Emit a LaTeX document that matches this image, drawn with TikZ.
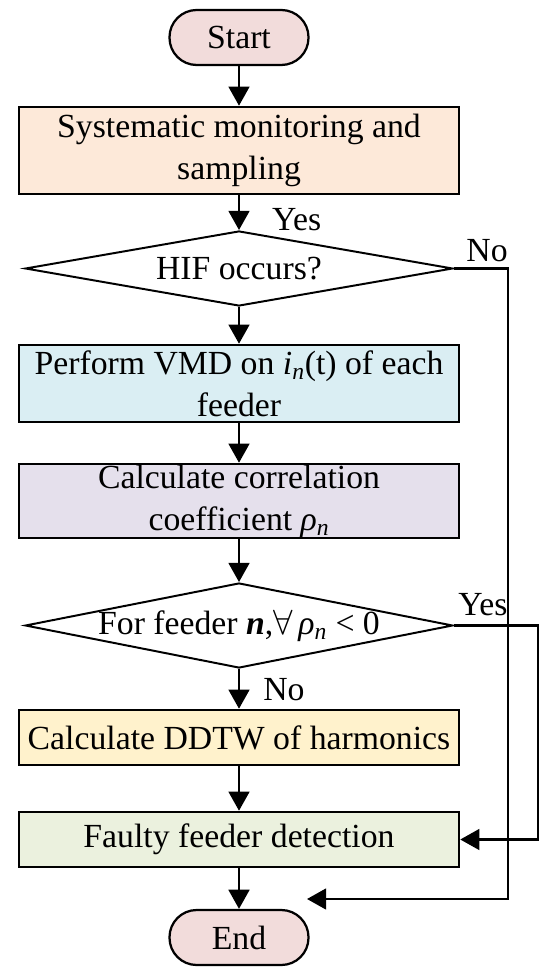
\documentclass[tikz,border=0pt]{standalone}
\usepackage{fontspec}
\setmainfont{Liberation Serif}
\usetikzlibrary{shapes.geometric,arrows.meta,positioning}
\definecolor{termfill}{HTML}{F2DCDB}
\definecolor{samplefill}{HTML}{FDE9D9}
\definecolor{vmdfill}{HTML}{DAEEF3}
\definecolor{corrfill}{HTML}{E5E0EC}
\definecolor{ddtwfill}{HTML}{FFF2CC}
\definecolor{detectfill}{HTML}{EBF1DE}
\begin{document}
\begin{tikzpicture}[
        font=\fontsize{24}{30}\selectfont,
        box/.style={draw,line width=1.8pt,minimum width=11cm,align=center,inner sep=0pt},
        term/.style={draw,line width=1.6pt,rounded corners=0.68cm,minimum width=3.475cm,minimum height=1.375cm,fill=termfill},
        test/.style={draw,diamond,line width=1.4pt,minimum width=10.69cm,inner sep=-0.4cm,aspect=5.4},
        flow/.style={line width=1.8pt,-{Triangle[length=0.48cm,width=0.52cm]}},
        lbl/.style={inner sep=0pt}
    ]
        \useasboundingbox (0,0) rectangle (13.75,-24.375);
        \node[term] (start) at (5.975,-0.9375) {Start};
        \node[box,fill=samplefill,minimum height=2.175cm] (sample) at (5.975,-3.7625) {Systematic monitoring and\\sampling};
        \node[test,minimum height=1.875cm] (hif) at (5.975,-6.7125) {HIF occurs?};
        \node[box,fill=vmdfill,minimum height=1.925cm] (vmd) at (5.975,-9.5875) {Perform VMD on \textit{i}\textsubscript{\textit{n}}(t) of each\\feeder};
        \node[box,fill=corrfill,minimum height=1.85cm] (corr) at (5.975,-12.525) {Calculate correlation\\coefficient \textit{ρ}\textsubscript{\textit{n}}};
        \node[test,minimum height=2.125cm] (cond) at (5.975,-15.6375) {For feeder \textit{\textbf{n}},$\forall$\,\textit{ρ}\textsubscript{\textit{n}} < 0};
        \node[box,fill=ddtwfill,minimum height=1.375cm] (ddtw) at (5.975,-18.4375) {Calculate DDTW of harmonics};
        \node[box,fill=detectfill,minimum height=1.375cm] (detect) at (5.975,-20.9875) {Faulty feeder detection};
        \node[term] (stop) at (5.975,-23.4375) {End};

        \coordinate (noside) at (12.7,-22.475);
        \coordinate (noend) at (7.675,-22.475);
        \coordinate (yesside) at (13.45,-20.9875);

        \draw[flow] (start) -- (sample);
        \draw[flow] (sample) -- (hif);
        \draw[flow] (hif) -- (vmd);
        \draw[flow] (vmd) -- (corr);
        \draw[flow] (corr) -- (cond);
        \draw[flow] (cond) -- (ddtw);
        \draw[flow] (ddtw) -- (detect);
        \draw[flow] (detect) -- (stop);
        \draw[flow] (hif.east) -| (noside) -- (noend);
        \draw[flow] (cond.east) -| (yesside) -- (detect.east);

        \node[lbl,anchor=base west] (yesa) at ([xshift=0.82cm]hif.north) {Yes};
        \node[lbl,anchor=base east] (noa) at ([yshift=0.18cm]noside |- hif.east) {No};
        \node[lbl,anchor=base west] (yesb) at ([xshift=0.11cm,yshift=0.25cm]cond.east) {Yes};
        \node[lbl,anchor=base west] (nob) at ([xshift=0.6cm,yshift=-0.8cm]cond.south) {No};
    \end{tikzpicture}
\end{document}
